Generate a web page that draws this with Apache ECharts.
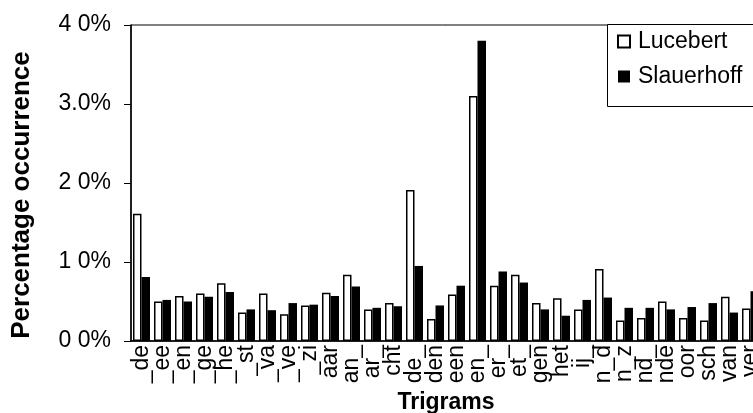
<!DOCTYPE html>
<html>
<head>
<meta charset="utf-8">
<script src="https://cdn.jsdelivr.net/npm/echarts@6/dist/echarts.min.js"></script>
<style>
  html, body { margin: 0; padding: 0; background: #fff; }
  #chart { width: 753px; height: 413px; }
</style>
</head>
<body>
<div id="chart"></div>
<script>
// Trigram frequencies (percent of all trigrams) for two poets
const trigrams = ['_de', '_ee', '_en', '_ge', '_he', '_st', '_va', '_ve', '_zi', 'aar',
  'an_', 'ar_', 'cht', 'de_', 'den', 'een', 'en_', 'er_', 'et_', 'gen',
  'het', 'ij_', 'n_d', 'n_z', 'nd_', 'nde', 'oor', 'sch', 'van', 'ver'];

const lucebert = [1.61, 0.50, 0.57, 0.60, 0.73, 0.36, 0.60, 0.34, 0.45, 0.61,
  0.84, 0.40, 0.48, 1.91, 0.28, 0.59, 3.10, 0.70, 0.84, 0.48,
  0.54, 0.40, 0.91, 0.26, 0.29, 0.50, 0.29, 0.26, 0.56, 0.41];

const slauerhoff = [0.81, 0.52, 0.50, 0.56, 0.62, 0.40, 0.39, 0.48, 0.46, 0.57,
  0.69, 0.42, 0.44, 0.95, 0.45, 0.70, 3.80, 0.88, 0.74, 0.40,
  0.32, 0.52, 0.55, 0.42, 0.42, 0.40, 0.43, 0.48, 0.36, 0.63];

const yTickValues = [0, 1, 2, 3, 4];
const yTickLabels = ['0 0%', '1 0%', '2 0%', '3.0%', '4 0%'];

const FONT = '"Liberation Sans", Arial, sans-serif';

const chart = echarts.init(document.getElementById('chart'), null, { renderer: 'canvas' });

chart.setOption({
  animation: false,
  backgroundColor: '#fff',
  grid: {
    left: 131,
    top: 25,
    width: 630,
    height: 316,
    containLabel: false,
    outerBoundsMode: 'none',
    show: true,
    borderColor: '#000',
    borderWidth: 1
  },
  // legend frame, open on the right where the plot runs past the page edge
  graphic: [{
    type: 'rect',
    left: 607,
    top: 24,
    z: 3,
    shape: { width: 200, height: 82 },
    style: { fill: '#fff', stroke: '#000', lineWidth: 1 }
  }],
  legend: {
    orient: 'vertical',
    left: 607,
    top: 24,
    z: 5,
    data: ['Lucebert', 'Slauerhoff'],
    icon: 'rect',
    itemWidth: 12,
    itemHeight: 12,
    itemGap: 12,
    padding: [6, 0, 18, 10],
    textStyle: { fontFamily: FONT, fontSize: 23, color: '#000', lineHeight: 23, padding: [0, 0, 0, 3] }
  },
  xAxis: {
    type: 'category',
    data: trigrams,
    name: 'Trigrams',
    nameLocation: 'middle',
    nameGap: 48,
    nameTextStyle: { fontFamily: FONT, fontSize: 23, fontWeight: 'bold', color: '#000' },
    axisLine: { show: true, lineStyle: { color: '#000', width: 1.5 } },
    axisTick: { show: false },
    axisLabel: {
      interval: 0,
      rotate: 90,
      margin: 4,
      fontFamily: FONT,
      fontSize: 23,
      color: '#000'
    },
    splitLine: { show: false }
  },
  yAxis: {
    type: 'value',
    min: 0,
    max: 4,
    interval: 1,
    name: 'Percentage occurrence',
    nameLocation: 'middle',
    nameGap: 96,
    nameRotate: 90,
    nameTextStyle: {
      fontFamily: FONT, fontSize: 26, fontWeight: 'bold', color: '#000',
      padding: [0, 24, 0, 0]
    },
    axisLine: { show: true, lineStyle: { color: '#000', width: 1.5 } },
    axisTick: { show: true, inside: false, length: 7, lineStyle: { color: '#000', width: 1 } },
    axisLabel: {
      margin: 20,
      fontFamily: FONT,
      fontSize: 23,
      color: '#000',
      formatter: function (v) {
        const i = yTickValues.indexOf(v);
        return i >= 0 ? yTickLabels[i] : '';
      }
    },
    splitLine: { show: false }
  },
  series: [
    {
      name: 'Lucebert',
      type: 'bar',
      data: lucebert,
      barWidth: 8.5,
      barGap: '0%',
      itemStyle: { color: '#fff', borderColor: '#000', borderWidth: 1.5 }
    },
    {
      name: 'Slauerhoff',
      type: 'bar',
      data: slauerhoff,
      barWidth: 8.5,
      barGap: '0%',
      itemStyle: { color: '#000', borderColor: '#000', borderWidth: 0 }
    }
  ]
});
</script>
</body>
</html>
